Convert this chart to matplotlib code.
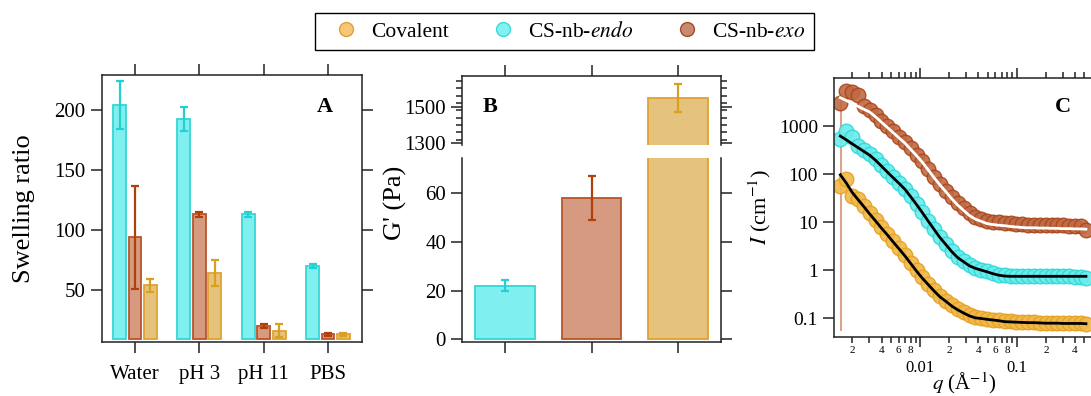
import numpy as np
import matplotlib
matplotlib.use('Agg')
import matplotlib.pyplot as plt
from matplotlib.lines import Line2D
from matplotlib.ticker import FixedLocator, NullLocator, LogLocator, FuncFormatter, MultipleLocator

plt.rcParams['font.family'] = ['Liberation Serif', 'DejaVu Serif']
plt.rcParams['mathtext.fontset'] = 'stix'

# colours (fill, edge, error bar)
c_endo = ('#80EFEF', '#35D6D6', '#22D2D2')
c_exo = ('#D69A80', '#B8552A', '#B0400A')
c_cov = ('#E6C37D', '#E0A232', '#D9A020')

# panel A: swelling ratio
conditions = ['Water', 'pH 3', 'pH 11', 'PBS']
swell_endo = [204, 192, 113, 70]
swell_endo_err = [20, 10, 2, 1.5]
swell_exo = [94, 113, 20, 13]
swell_exo_err = [43, 2, 1.5, 1]
swell_cov = [54, 64, 16, 13]
swell_cov_err = [5.5, 11, 5.5, 1]
swell_base = 9.5

# panel B: storage modulus
gmod = [22, 58, 1548]
gmod_err = [2.2, 9, 78]

# panel C: SAXS curves
q_saxs = [0.00150, 0.00173, 0.00198, 0.00228, 0.00262, 0.00302, 0.00347, 0.00399, 0.00459, 0.00528,
          0.00607, 0.00698, 0.00803, 0.00923, 0.0106, 0.0122, 0.0140, 0.0161, 0.0186, 0.0213,
          0.0245, 0.0282, 0.0325, 0.0373, 0.0429, 0.0494, 0.0568, 0.0653, 0.0751, 0.0863,
          0.0993, 0.114, 0.131, 0.151, 0.174, 0.200, 0.230, 0.264, 0.304, 0.350,
          0.402, 0.462, 0.520]
I_exo = [3100, 5600, 5200, 4500, 2700, 2150, 1700, 1320, 1020, 790,
         610, 470, 350, 258, 188, 130, 90, 64, 46, 33.5,
         25, 19.5, 15.4, 13.2, 12.0, 10.9, 10.4, 10.0, 9.7, 9.5,
         9.3, 9.1, 9.0, 8.9, 8.8, 8.8, 8.7, 8.6, 8.6, 8.5,
         8.4, 8.3, 7.0]
I_exo_fit = [3980, 3470, 3020, 2630, 2290, 1995, 1585, 1230, 955, 741,
             575, 450, 331, 245, 178, 123, 85, 60, 43, 31,
             23, 17.8, 13.8, 11.7, 10.5, 9.4, 9.0, 8.7, 8.5, 8.2,
             8.0, 7.8, 7.7, 7.7, 7.6, 7.6, 7.5, 7.5, 7.4, 7.4,
             7.3, 7.3, 7.2]
I_endo = [560, 820, 600, 400, 320, 262, 205, 156, 116, 88,
          67, 50.5, 35, 24, 16.3, 10.8, 7.3, 4.95, 3.5, 2.5,
          1.88, 1.54, 1.27, 1.12, 1.03, 0.95, 0.87, 0.81, 0.78, 0.77,
          0.77, 0.76, 0.76, 0.76, 0.76, 0.76, 0.75, 0.75, 0.75, 0.75,
          0.74, 0.74, 0.70]
I_endo_fit = [630, 525, 437, 363, 302, 251, 197, 149, 112, 85,
              65, 49, 34, 23.4, 15.8, 10.5, 7.1, 4.8, 3.4, 2.45,
              1.84, 1.51, 1.24, 1.10, 1.01, 0.93, 0.85, 0.79, 0.76, 0.75,
              0.75, 0.75, 0.75, 0.75, 0.75, 0.75, 0.75, 0.75, 0.75, 0.75,
              0.75, 0.75, 0.75]
I_cov = [57, 82, 36, 31, 22, 15.5, 11.2, 8.0, 5.7, 4.1,
         2.9, 2.1, 1.45, 1.0, 0.71, 0.52, 0.385, 0.29, 0.232, 0.186,
         0.155, 0.133, 0.115, 0.105, 0.101, 0.097, 0.094, 0.091, 0.088, 0.086,
         0.085, 0.084, 0.083, 0.082, 0.081, 0.080, 0.080, 0.080, 0.079, 0.079,
         0.079, 0.078, 0.076]
I_cov_fit = [98, 66, 42.7, 30, 21.4, 14.9, 10.7, 7.6, 5.5, 3.9,
             2.8, 2.0, 1.38, 0.955, 0.68, 0.50, 0.37, 0.279, 0.224, 0.18,
             0.150, 0.129, 0.112, 0.102, 0.099, 0.095, 0.092, 0.089, 0.085, 0.084,
             0.083, 0.082, 0.081, 0.081, 0.080, 0.079, 0.079, 0.079, 0.078, 0.078,
             0.078, 0.078, 0.077]
q_marker = 0.00153
marker_span = (0.055, 5000)

W, H = 1091, 396
fig = plt.figure(figsize=(W / 100, H / 100), dpi=100)


def px_axes(left, top, right, bottom):
    return fig.add_axes([left / W, 1 - bottom / H, (right - left) / W, (bottom - top) / H])


def style_spines(ax):
    for s in ax.spines.values():
        s.set_linewidth(1.1)
        s.set_color('#222222')


tick_kw = dict(direction='out', length=8, width=1.1, color='#222222', labelsize=15)

# ---------------- panel A ----------------
axA = px_axes(101.5, 75, 361.5, 341.7)
x = np.arange(len(conditions))
off, bw = 0.24, 0.2
for dx, vals, errs, col in [(-off, swell_endo, swell_endo_err, c_endo),
                            (0, swell_exo, swell_exo_err, c_exo),
                            (off, swell_cov, swell_cov_err, c_cov)]:
    heights = np.array(vals) - swell_base
    axA.bar(x + dx, heights, bw, bottom=swell_base, color=col[0], edgecolor=col[1], linewidth=1.3, zorder=2)
    axA.errorbar(x + dx, vals, yerr=errs, fmt='none', ecolor=col[2], elinewidth=1.6,
                 capsize=3, capthick=1.6, zorder=3)
axA.set_xlim(-0.52, 3.52)
axA.set_ylim(7, 229)
axA.set_xticks(x)
axA.set_xticklabels(conditions)
axA.set_yticks([50, 100, 150, 200])
axA.tick_params(axis='both', top=True, right=True, **tick_kw)
axA.tick_params(axis='x', pad=9)
axA.set_ylabel('Swelling ratio', fontsize=19, labelpad=14)
axA.text(0.86, 0.88, 'A', transform=axA.transAxes, fontsize=16, fontweight='bold', ha='center', va='center')
style_spines(axA)

# ---------------- panel B ----------------
axBt = px_axes(462, 76, 721, 145)
axBb = px_axes(462, 158, 721, 342)
xb = np.arange(3)
bcols = [c_endo, c_exo, c_cov]
for ax in (axBt, axBb):
    for i in range(3):
        ax.bar(xb[i], gmod[i], 0.69, color=bcols[i][0], edgecolor=bcols[i][1], linewidth=1.3, zorder=2)
        ax.errorbar(xb[i], gmod[i], yerr=gmod_err[i], fmt='none', ecolor=bcols[i][2],
                    elinewidth=1.6, capsize=3, capthick=1.6, zorder=3)
    ax.set_xlim(-0.5, 2.5)
    style_spines(ax)
axBt.set_ylim(1290.7, 1667.6)
axBb.set_ylim(-1.1, 74.5)
axBt.spines['bottom'].set_visible(False)
axBb.spines['top'].set_visible(False)
axBt.set_xticks(xb)
axBt.tick_params(axis='x', bottom=False, labelbottom=False, top=True, **tick_kw)
axBt.yaxis.set_major_locator(FixedLocator([1300, 1500]))
axBt.yaxis.set_minor_locator(MultipleLocator(40))
axBt.tick_params(axis='y', which='major', right=True, **tick_kw)
axBt.tick_params(axis='y', which='minor', right=True, direction='out', length=4.5, width=1.1, color='#222222')
axBb.set_xticks(xb)
axBb.tick_params(axis='x', labelbottom=False, **tick_kw)
axBb.set_yticks([0, 20, 40, 60])
axBb.tick_params(axis='y', right=True, **tick_kw)
fig.text(395 / W, 1 - 203 / H, "G' (Pa)", rotation=90, fontsize=19, ha='center', va='center')
fig.text(490 / W, 1 - 107 / H, 'B', fontsize=16, fontweight='bold', ha='center', va='center')

# ---------------- panel C ----------------
axC = px_axes(834, 78, 1095, 336.7)
axC.set_xscale('log')
axC.set_yscale('log')
axC.vlines(q_marker, marker_span[0], marker_span[1], color='#D9A48C', linewidth=1.5, zorder=1)
for I_dat, col, face in [(I_cov, '#E3A11C', '#F2B84A'),
                         (I_endo, '#2FD8D8', '#6AECEC'),
                         (I_exo, '#A9461C', '#C06A44')]:
    axC.plot(q_saxs, I_dat, 'o', ms=10.5, mfc=face, mec=col, mew=1.0, alpha=0.9, zorder=2)
axC.plot(q_saxs, I_cov_fit, color='black', lw=2, zorder=4)
axC.plot(q_saxs, I_endo_fit, color='black', lw=2, zorder=4)
axC.plot(q_saxs, I_exo_fit, color='white', lw=2, zorder=4)
axC.set_xlim(0.00129, 0.645)
axC.set_ylim(0.0413, 10230)

axC.xaxis.set_major_locator(LogLocator(base=10, numticks=10))
axC.xaxis.set_minor_locator(LogLocator(base=10, subs=np.arange(2, 10), numticks=20))
axC.xaxis.set_major_formatter(FuncFormatter(lambda v, p: '%g' % v))


def minor_fmt(v, p):
    if v > 0.55:
        return ''
    d = int(round(v / 10 ** np.floor(np.log10(v) + 1e-9)))
    return str(d) if d in (2, 4, 6, 8) else ''


axC.xaxis.set_minor_formatter(FuncFormatter(minor_fmt))
axC.yaxis.set_major_locator(FixedLocator([0.1, 1, 10, 100, 1000]))
axC.yaxis.set_minor_locator(NullLocator())
axC.yaxis.set_major_formatter(FuncFormatter(lambda v, p: '%g' % v))
axC.tick_params(axis='x', which='major', top=True, direction='out', length=7, width=1.1,
                color='#222222', labelsize=12, pad=10)
axC.tick_params(axis='x', which='minor', top=True, direction='out', length=4.5, width=1.1,
                color='#222222', labelsize=8, pad=2)
axC.tick_params(axis='y', which='major', direction='out', length=8, width=1.1,
                color='#222222', labelsize=14)
axC.set_ylabel(r'$I$ (cm$^{-1}$)', fontsize=16, labelpad=4)
axC.set_xlabel(r'$q$ (Å$^{-1}$)', fontsize=15, labelpad=-4)
axC.text(1063 / W, 1 - 107 / H, 'C', transform=fig.transFigure, fontsize=16, fontweight='bold',
         ha='center', va='center')
style_spines(axC)

# ---------------- legend ----------------
handles = [Line2D([], [], ls='none', marker='o', ms=10, mfc='#F5C878', mec='#E0A030'),
           Line2D([], [], ls='none', marker='o', ms=10, mfc='#80F2F2', mec='#40D8D8'),
           Line2D([], [], ls='none', marker='o', ms=10, mfc='#C88A70', mec='#A0502A')]
labels = ['Covalent', r'CS-nb-$\mathit{endo}$', r'CS-nb-$\mathit{exo}$']
fig.legend(handles, labels, ncol=3, loc='center', bbox_to_anchor=(564.5 / W, 1 - 31.5 / H),
           fontsize=15.5, frameon=True, fancybox=False, edgecolor='black', framealpha=1,
           handlelength=2.1, handletextpad=0.12, columnspacing=1.45, borderpad=0.4)

fig.savefig('out.png', dpi=100)
